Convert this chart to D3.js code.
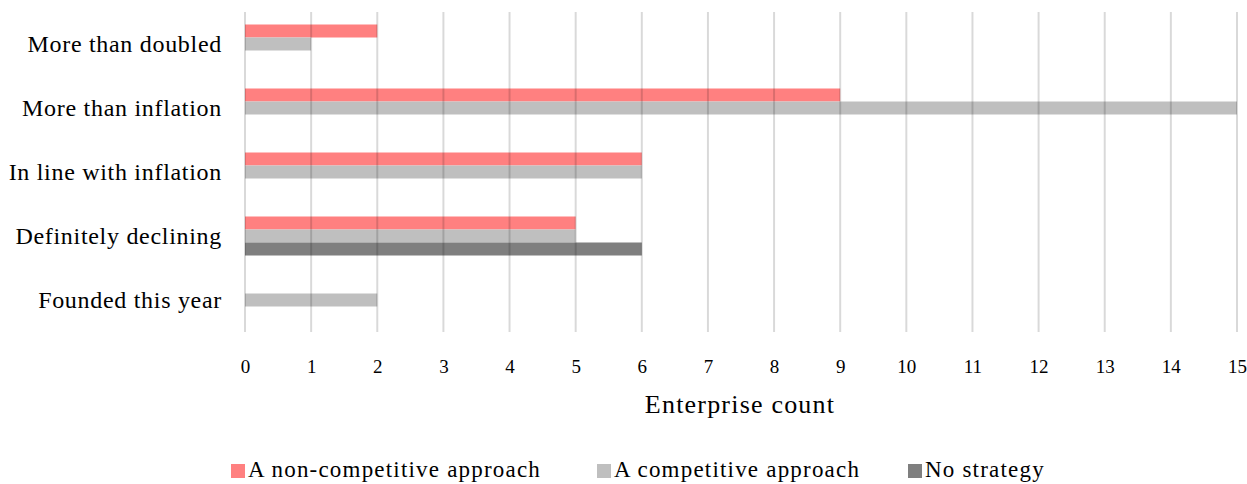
<!DOCTYPE html>
<html>
<head>
<meta charset="utf-8">
<script src="https://cdn.jsdelivr.net/npm/d3@7"></script>
<style>
  html, body { margin: 0; padding: 0; background: #fff; }
  svg { display: block; font-family: "Liberation Serif", "Times New Roman", serif; }
</style>
</head>
<body>
<svg id="chart" width="1247" height="484"></svg>
<script>
// Revenue trend categories (top to bottom)
const categories = [
  "More than doubled",
  "More than inflation",
  "In line with inflation",
  "Definitely declining",
  "Founded this year"
];

// Series names and counts per category
const seriesNames = ["A non-competitive approach", "A competitive approach", "No strategy"];
const nonCompetitive = [2, 9, 6, 5, 0];
const competitive    = [1, 15, 6, 5, 2];
const noStrategy     = [0, 0, 0, 6, 0];

const xTicks = [0, 1, 2, 3, 4, 5, 6, 7, 8, 9, 10, 11, 12, 13, 14, 15];
const xTitle = "Enterprise count";

const colors = ["#ff8080", "#bfbfbf", "#7f7f7f"];

const seriesValues = [nonCompetitive, competitive, noStrategy];
const rows = categories.map((c, i) => ({
  category: c,
  values: seriesNames.map((s, k) => ({ series: s, value: seriesValues[k][i], k }))
}));

const svg = d3.select("#chart");
const plot = { left: 245, right: 1237, top: 12, bottom: 332 };

const x = d3.scaleLinear().domain([0, 15]).range([plot.left, plot.right]);
const y0 = d3.scaleBand().domain(categories).range([plot.top, plot.bottom]).padding(0);
const groupH = 39;
const y1 = d3.scaleBand().domain(seriesNames)
  .range([(y0.bandwidth() - groupH) / 2, (y0.bandwidth() + groupH) / 2]).padding(0);

// Bars
const groups = svg.append("g").selectAll("g")
  .data(rows).join("g")
  .attr("transform", d => `translate(0,${y0(d.category)})`);

groups.selectAll("rect")
  .data(d => d.values.filter(v => v.value > 0))
  .join("rect")
  .attr("x", x(0))
  .attr("y", d => y1(d.series))
  .attr("width", d => x(d.value) - x(0))
  .attr("height", y1.bandwidth())
  .attr("fill", d => colors[d.k]);

// Vertical gridlines, drawn over the bars
svg.append("g").selectAll("line")
  .data(xTicks).join("line")
  .attr("x1", d => x(d)).attr("x2", d => x(d))
  .attr("y1", plot.top).attr("y2", plot.bottom)
  .attr("stroke", "#000")
  .attr("stroke-opacity", 0.15)
  .attr("stroke-width", 2);

// X axis tick labels
const xAxis = d3.axisBottom(x).tickValues(xTicks).tickSize(0).tickPadding(0).tickFormat(d3.format("d"));
const gx = svg.append("g").attr("transform", `translate(0,${plot.bottom + 41})`).call(xAxis);
gx.select(".domain").remove();
gx.selectAll("text")
  .attr("dy", 0)
  .attr("font-family", "Liberation Serif, serif")
  .attr("font-size", 19)
  .attr("fill", "#000");

// Axis title
svg.append("text")
  .attr("x", (plot.left + plot.right) / 2 - 1)
  .attr("y", 413)
  .attr("text-anchor", "middle")
  .attr("font-size", 26)
  .attr("letter-spacing", 1.2)
  .attr("fill", "#000")
  .text(xTitle);

// Category labels
const yAxis = d3.axisLeft(y0).tickSize(0).tickPadding(23);
const gy = svg.append("g").attr("transform", `translate(${plot.left},0)`).call(yAxis);
gy.select(".domain").remove();
gy.selectAll("text")
  .attr("font-family", "Liberation Serif, serif")
  .attr("font-size", 24)
  .attr("letter-spacing", 0.7)
  .attr("fill", "#000");

// Legend
const legendX = [231, 597, 908];
const legend = svg.append("g").selectAll("g")
  .data(seriesNames).join("g")
  .attr("transform", (d, i) => `translate(${legendX[i]},464)`);
legend.append("rect")
  .attr("width", 14).attr("height", 14)
  .attr("fill", (d, i) => colors[i]);
legend.append("text")
  .attr("x", 17).attr("y", 13)
  .attr("font-size", 23)
  .attr("letter-spacing", 1.2)
  .attr("fill", "#000")
  .text(d => d);
</script>
</body>
</html>
